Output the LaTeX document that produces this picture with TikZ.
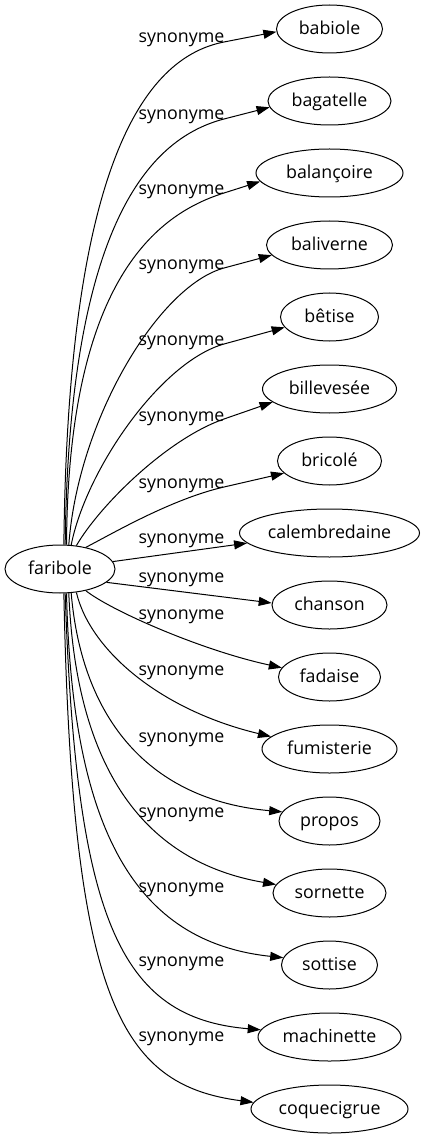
\documentclass[tikz,border=0pt]{standalone}
\usepackage{fontspec}
\setmainfont{Open Sans}
\usetikzlibrary{shapes.geometric,arrows.meta}
\begin{document}
\begin{tikzpicture}[x=1pt,y=-1pt,
  every node/.style={font=\fontsize{17.8}{20}\selectfont},
  nd/.style={draw, ellipse, line width=1pt, inner sep=0pt, minimum height=48pt, text height=13pt, text depth=2pt},
  lbl/.style={inner sep=0pt, anchor=base},
  edge/.style={line width=1pt, -{Triangle[length=13pt,width=9pt]}}]
\useasboundingbox (0,0) rectangle (424,1139);
\node[nd, minimum width=110pt] (f) at (60,569) {faribole};
\node[nd, minimum width=106pt] (t0) at (329.5,29) {babiole};
\node[nd, minimum width=123pt] (t1) at (329.5,101) {bagatelle};
\node[nd, minimum width=147pt] (t2) at (329.5,173) {balançoire};
\node[nd, minimum width=126pt] (t3) at (329.5,245) {baliverne};
\node[nd, minimum width=98pt] (t4) at (329.5,317) {bêtise};
\node[nd, minimum width=134pt] (t5) at (329.5,389) {billevesée};
\node[nd, minimum width=104pt] (t6) at (329.5,461) {bricolé};
\node[nd, minimum width=180pt] (t7) at (329.5,533) {calembredaine};
\node[nd, minimum width=115pt] (t8) at (329.5,605) {chanson};
\node[nd, minimum width=102pt] (t9) at (329.5,677) {fadaise};
\node[nd, minimum width=135pt] (t10) at (329.5,749) {fumisterie};
\node[nd, minimum width=101pt] (t11) at (329.5,821) {propos};
\node[nd, minimum width=113pt] (t12) at (329.5,893) {sornette};
\node[nd, minimum width=96pt] (t13) at (329.5,965) {sottise};
\node[nd, minimum width=143pt] (t14) at (329.5,1037) {machinette};
\node[nd, minimum width=157pt] (t15) at (329.5,1109) {coquecigrue};

\node[lbl] (l0) at (181.5,43) {synonyme};
\node[lbl] (l1) at (181.5,120) {synonyme};
\node[lbl] (l2) at (181.5,195) {synonyme};
\node[lbl] (l3) at (181.5,270) {synonyme};
\node[lbl] (l4) at (181.5,345) {synonyme};
\node[lbl] (l5) at (181.5,421) {synonyme};
\node[lbl] (l6) at (181.5,488) {synonyme};
\node[lbl] (l7) at (181.5,543) {synonyme};
\node[lbl] (l8) at (181.5,582) {synonyme};
\node[lbl] (l9) at (181.5,619) {synonyme};
\node[lbl] (l10) at (181.5,675) {synonyme};
\node[lbl] (l11) at (181.5,742) {synonyme};
\node[lbl] (l12) at (181.5,817) {synonyme};
\node[lbl] (l13) at (181.5,892) {synonyme};
\node[lbl] (l14) at (181.5,966) {synonyme};
\node[lbl] (l15) at (181.5,1041) {synonyme};

\draw[edge] (f.81) .. controls (68,150) and (150.4,56.4) .. (224,42) -- (t0.183);
\draw[edge] (f.78) .. controls (69,215) and (154.3,137.2) .. (224,119) -- (t1.186);
\draw[edge] (f.75) .. controls (68,280) and (157.2,213.9) .. (224,193) -- (t2.187);
\draw[edge] (f.70) .. controls (78,420) and (158.3,285.9) .. (224,268) -- (t3.190);
\draw[edge] (f.65) .. controls (86,470) and (160.4,361.9) .. (224,344) -- (t4.193);
\draw[edge] (f.55) .. controls (100,505) and (167.4,438.7) .. (224,419) -- (t5.193);
\draw[edge] (f.40) .. controls (110,535) and (170.4,499.3) .. (224,487) -- (t6.195);
\draw[edge] (f.8) -- (t7.187);
\draw[edge] (f.344) -- (t8.178);
\draw[edge] (f.320) .. controls (110,610) and (200,650) .. (t9.169);
\draw[edge] (f.305) .. controls (90,650) and (160,710) .. (t10.168);
\draw[edge] (f.295) .. controls (82,720) and (150,800) .. (t11.169);
\draw[edge] (f.290) .. controls (76,770) and (145,862) .. (t12.171);
\draw[edge] (f.285) .. controls (72,830) and (135,942) .. (t13.171);
\draw[edge] (f.282) .. controls (76,920) and (120,1018) .. (t14.174);
\draw[edge] (f.279) .. controls (72,1000) and (120,1085) .. (t15.175);
\end{tikzpicture}
\end{document}
